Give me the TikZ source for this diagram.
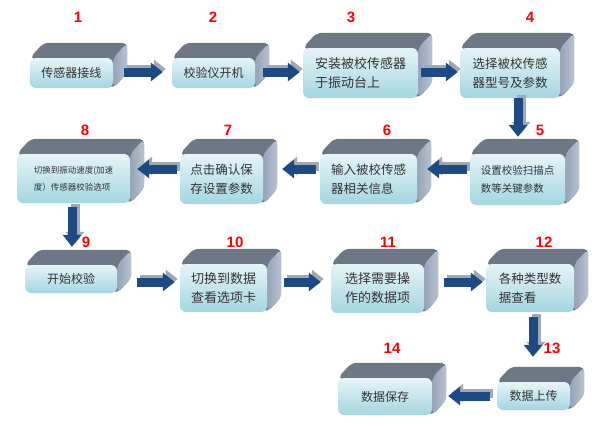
\documentclass[tikz,border=0pt]{standalone}
\usepackage{fontspec}
\setsansfont{Liberation Sans}
\newfontfamily\cjk{Noto Sans CJK SC}
\usetikzlibrary{arrows.meta, calc, backgrounds}

\definecolor{facetop}{HTML}{E6F4F7}
\definecolor{facebot}{HTML}{A4D6E0}
\definecolor{lidgray}{HTML}{6D7786}
\definecolor{sidedark}{HTML}{97A3B8}
\definecolor{sidelight}{HTML}{B8C2D2}
\definecolor{arrowblue}{HTML}{1E4A84}
\definecolor{shadowgray}{HTML}{A2A8B1}

% block arrow with its grey shadow
\newcommand{\blockarrow}[2]{%
  \draw[arrowshadow] #1 -- #2;
  \draw[arrow] #1 -- #2;}

\begin{document}
\begin{tikzpicture}[x=1pt, y=-1pt,
    block/.style={rectangle, rounded corners=6pt, top color=facetop, bottom color=facebot, inner sep=0pt, align=left, text=black!80},
    txt/.style 2 args={font=\cjk\fontsize{#1}{#2}\selectfont},
    num/.style={text=red, font=\sffamily\bfseries\fontsize{15}{15}\selectfont},
    lid/.style={fill=lidgray, rounded corners=5pt},
    side/.style={left color=sidedark, right color=sidelight, rounded corners=5pt},
    arrow/.style={-{Triangle[length=12pt, width=18pt]}, line width=9pt, draw=arrowblue},
    arrowshadow/.style={-{Triangle[length=12pt, width=18pt]}, line width=9pt, draw=shadowgray, transform canvas={shift={(3,-3)}}}
]
\useasboundingbox (0,0) rectangle (616,426);

% Row 1
\node[block, txt={12}{19}, minimum width=83pt, minimum height=30pt] (b1) at (71.5,73) {传感器接线};
\node[block, txt={12}{19}, minimum width=83pt, minimum height=30pt] (b2) at (213.5,73) {校验仪开机};
\node[block, txt={13}{19}, minimum width=115pt, minimum height=50pt] (b3) at (360.5,73) {安装被校传感器\\于振动台上};
\node[block, txt={12.5}{19}, minimum width=100pt, minimum height=50pt] (b4) at (510,73) {选择被校传感\\器型号及参数};

% Row 2
\node[block, txt={10.5}{18}, minimum width=95pt, minimum height=51pt] (b5) at (517.5,179.5) {设置校验扫描点\\数等关键参数};
\node[block, txt={12.5}{19}, minimum width=97pt, minimum height=50pt] (b6) at (368.5,179) {输入被校传感\\器相关信息};
\node[block, txt={12.5}{19}, minimum width=83pt, minimum height=50pt] (b7) at (221.5,179) {点击确认保\\存设置参数};
\node[block, txt={8.5}{17}, minimum width=113pt, minimum height=49pt] (b8) at (73.5,178.5) {切换到振动速度(加速\\度）传感器校验选项};

% Row 3
\node[block, txt={12}{19}, minimum width=92pt, minimum height=28pt] (b9) at (71,279) {开始校验};
\node[block, txt={13}{19}, minimum width=87pt, minimum height=48pt] (b10) at (223.5,288) {切换到数据\\查看选项卡};
\node[block, txt={13}{19}, minimum width=93pt, minimum height=49pt] (b11) at (377.5,288.5) {选择需要操\\作的数据项};
\node[block, txt={12.5}{19}, minimum width=88pt, minimum height=48pt] (b12) at (530,288) {各种类型数\\据查看};

% Row 4
\node[block, txt={12}{19}, minimum width=73pt, minimum height=28pt] (b13) at (533.5,396) {数据上传};
\node[block, txt={12}{19}, minimum width=94pt, minimum height=37pt] (b14) at (385,396.5) {数据保存};

% Step numbers
\node[num] (n1) at (78,17) {1};
\node[num] (n2) at (213,17) {2};
\node[num] (n3) at (351,17) {3};
\node[num] (n4) at (530,17) {4};
\node[num] (n5) at (540,130) {5};
\node[num] (n6) at (387,130) {6};
\node[num] (n7) at (228,130) {7};
\node[num] (n8) at (85,130) {8};
\node[num] (n9) at (86,242) {9};
\node[num] (n10) at (235,242) {10};
\node[num] (n11) at (388,242) {11};
\node[num] (n12) at (544,242) {12};
\node[num] (n13) at (552,348) {13};
\node[num] (n14) at (392,348) {14};

% Top and side faces
\begin{scope}[on background layer]
\foreach \i in {1,...,14} {
  \fill[lid] (b\i.north west) -- ++(14,-15) -- ($(b\i.north east)+(14,-15)$) -- ($(b\i.south east)+(14,-15)$) -- (b\i.south east) -- cycle;
  \path[side] (b\i.north east) -- ($(b\i.north east)+(14,-15)$) -- ($(b\i.south east)+(14,-15)$) -- (b\i.south east) -- cycle;
}
\end{scope}

% Arrows
\blockarrow{($(b1.east)+(11,-1)$)}{($(b2.west)+(-9,-1)$)}
\blockarrow{($(b2.east)+(8,-1)$)}{($(b3.west)+(-3,-1)$)}
\blockarrow{($(b3.east)+(3,-1)$)}{($(b4.west)+(-2,-1)$)}
\blockarrow{($(b4.south)+(8,0)$)}{($(b5.north)+(0.5,-17)$)}
\blockarrow{($(b5.west)+(-3,-10.5)$)}{($(b6.east)+(10,-10)$)}
\blockarrow{($(b6.west)+(-4,-10)$)}{($(b7.east)+(19,-10)$)}
\blockarrow{($(b7.west)+(-3,-10)$)}{($(b8.east)+(7,-9.5)$)}
\blockarrow{($(b8.south)+(-1.5,4)$)}{($(b9.north)+(1,-18)$)}
\blockarrow{($(b9.east)+(20,3)$)}{($(b10.west)+(-5,-6)$)}
\blockarrow{($(b10.east)+(17,-6)$)}{($(b11.west)+(-10,-6.5)$)}
\blockarrow{($(b11.east)+(20,-6.5)$)}{($(b12.west)+(-3,-6)$)}
\blockarrow{($(b12.south)+(3,5)$)}{($(b13.north)+(-0.5,-25)$)}
\blockarrow{($(b13.west)+(-7,0)$)}{($(b14.east)+(16,-0.5)$)}

\end{tikzpicture}
\end{document}
